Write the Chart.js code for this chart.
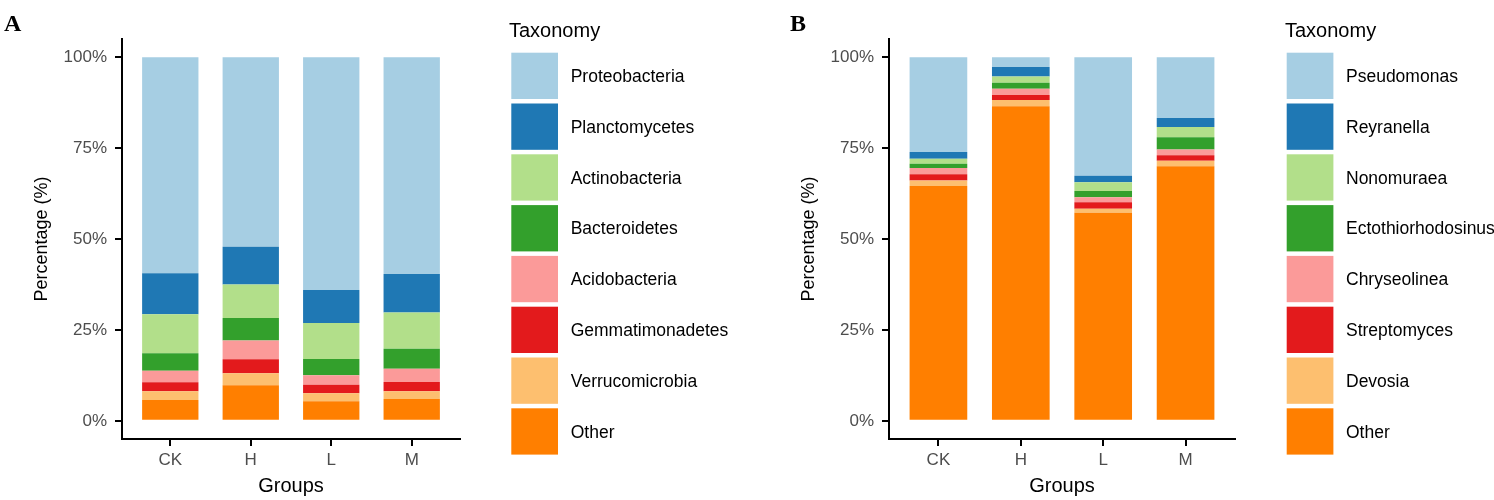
<!DOCTYPE html>
<html><head><meta charset="utf-8">
<script src="https://cdn.jsdelivr.net/npm/chart.js@4/dist/chart.umd.min.js"></script>
<style>
html,body{margin:0;padding:0;background:#fff;}
#wrap{position:relative;width:1494px;height:500px;overflow:hidden;background:#fff;}
canvas{position:absolute;top:0;}
.tag{position:absolute;font-family:"Liberation Serif","Times New Roman",serif;font-weight:bold;font-size:24px;line-height:1;color:#000;}
</style></head><body>
<div id="wrap">
<canvas id="cA" width="770" height="500" style="left:0px"></canvas>
<canvas id="cB" width="724" height="500" style="left:770px"></canvas>
<div class="tag" style="left:4px;top:11px">A</div>
<div class="tag" style="left:790px;top:11px">B</div>
</div>
<script>
// ---- data ----
const groups = ['CK', 'H', 'L', 'M'];
const yTicks = [0, 25, 50, 75, 100];

// Panel A (phylum), legend order top -> bottom
const taxaA = ['Proteobacteria', 'Planctomycetes', 'Actinobacteria', 'Bacteroidetes', 'Acidobacteria', 'Gemmatimonadetes', 'Verrucomicrobia', 'Other'];
const A_Proteobacteria   = [59.4, 52.1, 64.0, 59.6];
const A_Planctomycetes   = [11.3, 10.4, 9.1, 10.6];
const A_Actinobacteria   = [10.7, 9.2, 9.9, 10.0];
const A_Bacteroidetes    = [4.8, 6.2, 4.5, 5.5];
const A_Acidobacteria    = [3.2, 5.2, 2.6, 3.6];
const A_Gemmatimonadetes = [2.5, 3.8, 2.3, 2.6];
const A_Verrucomicrobia  = [2.4, 3.3, 2.2, 2.1];
const A_Other            = [5.7, 9.8, 5.4, 6.0];

// Panel B (genus), legend order top -> bottom
const taxaB = ['Pseudomonas', 'Reyranella', 'Nonomuraea', 'Ectothiorhodosinus', 'Chryseolinea', 'Streptomyces', 'Devosia', 'Other'];
const B_Pseudomonas        = [26.1, 2.7, 32.6, 16.7];
const B_Reyranella         = [1.8, 2.6, 1.8, 2.5];
const B_Nonomuraea         = [1.4, 1.7, 2.4, 2.8];
const B_Ectothiorhodosinus = [1.2, 1.7, 1.7, 3.4];
const B_Chryseolinea       = [1.7, 1.7, 1.4, 1.6];
const B_Streptomyces       = [1.7, 1.4, 1.8, 1.5];
const B_Devosia            = [1.5, 1.7, 1.1, 1.5];
const B_Other              = [64.6, 86.5, 57.2, 70.0];

const palette = ['#A6CEE3', '#1F78B4', '#B2DF8A', '#33A02C', '#FB9A99', '#E31A1C', '#FDBF6F', '#FF7F00'];

const valuesA = [A_Proteobacteria, A_Planctomycetes, A_Actinobacteria, A_Bacteroidetes, A_Acidobacteria, A_Gemmatimonadetes, A_Verrucomicrobia, A_Other];
const valuesB = [B_Pseudomonas, B_Reyranella, B_Nonomuraea, B_Ectothiorhodosinus, B_Chryseolinea, B_Streptomyces, B_Devosia, B_Other];

// ---- drawing ----
const FAM = '"Liberation Sans", Arial, Helvetica, sans-serif';

const taxLegend = {
  id: 'taxLegend',
  afterDraw(chart, args, o) {
    const ctx = chart.ctx;
    ctx.save();
    ctx.textAlign = 'left';
    ctx.textBaseline = 'middle';
    ctx.fillStyle = '#000';
    ctx.font = '20px ' + FAM;
    ctx.fillText(o.title, o.titleX, o.titleY);
    ctx.font = '17.5px ' + FAM;
    const ds = chart.data.datasets.slice().reverse();
    ds.forEach((d, i) => {
      const y = o.top + i * o.pitch;
      ctx.fillStyle = d.backgroundColor;
      ctx.fillRect(o.boxX, y, o.boxW, o.boxH);
      ctx.fillStyle = '#000';
      ctx.fillText(d.label, o.textX, y + o.boxH / 2 + 1.3);
    });
    ctx.restore();
  }
};

function makeChart(id, taxa, values, g) {
  // stack order: last legend entry ("Other") at the bottom
  const datasets = taxa.map((t, i) => ({
    label: t,
    data: groups.map((grp, j) => ({ x: j + 1, y: values[i][j] })),
    backgroundColor: palette[i],
    borderWidth: 0,
    barPercentage: 0.875,
    categoryPercentage: 0.8
  })).reverse();

  const axisBorder = { display: true, color: '#000', width: 2 };

  return new Chart(document.getElementById(id), {
    type: 'bar',
    data: { datasets },
    plugins: [taxLegend],
    options: {
      responsive: false,
      animation: false,
      devicePixelRatio: 1,
      layout: { padding: { left: 0, top: 39, right: g.padRight, bottom: 0 } },
      plugins: {
        legend: { display: false },
        tooltip: { enabled: false },
        taxLegend: g.legend
      },
      scales: {
        x: {
          type: 'linear', min: 0.4, max: 4.6, stacked: true, offset: false,
          afterBuildTicks: s => { s.ticks = groups.map((grp, i) => ({ value: i + 1 })); },
          afterFit: s => { s.height = 61; },
          ticks: { callback: v => groups[Math.round(v) - 1], color: '#4D4D4D', font: { size: 17, family: FAM }, padding: 4, maxRotation: 0, autoSkip: false },
          grid: { offset: false, drawOnChartArea: false, drawTicks: true, tickLength: 7, color: '#000', lineWidth: 2 },
          border: axisBorder,
          title: { display: true, text: 'Groups', color: '#000', font: { size: 20, family: FAM }, padding: { top: 0, bottom: 2 } }
        },
        y: {
          type: 'linear', min: -5, max: 105, stacked: true,
          afterBuildTicks: s => { s.ticks = yTicks.map(v => ({ value: v })); },
          afterFit: s => { s.width = g.yWidth; },
          ticks: { callback: v => v + '%', color: '#4D4D4D', font: { size: 17, family: FAM }, padding: 8 },
          grid: { offset: false, drawOnChartArea: false, drawTicks: true, tickLength: 7, color: '#000', lineWidth: 2 },
          border: axisBorder,
          title: { display: true, text: 'Percentage (%)', color: '#000', font: { size: 18, family: FAM }, padding: { top: g.titlePad, bottom: 0 } }
        }
      }
    }
  });
}

makeChart('cA', taxaA, valuesA, {
  yWidth: 122, padRight: 310, titlePad: 31,
  legend: { title: 'Taxonomy', titleX: 509, titleY: 31, boxX: 511.3, boxW: 46.7, boxH: 46.3, top: 52.7, pitch: 50.8, textX: 570.7 }
});
makeChart('cB', taxaB, valuesB, {
  yWidth: 119, padRight: 259, titlePad: 28,
  legend: { title: 'Taxonomy', titleX: 515, titleY: 31, boxX: 516.7, boxW: 46.7, boxH: 46.3, top: 52.7, pitch: 50.8, textX: 576 }
});
</script>
</body></html>
